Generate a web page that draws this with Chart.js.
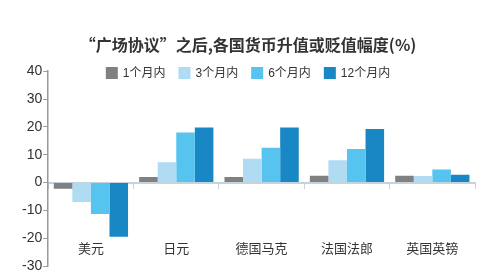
<!DOCTYPE html>
<html>
<head>
<meta charset="utf-8">
<script src="https://cdn.jsdelivr.net/npm/chart.js@4"></script>
<style>
  body { margin: 0; background: #fff; }
  #wrap { width: 487px; height: 278px; }
</style>
</head>
<body>
<div id="wrap"><canvas id="chart"></canvas></div>
<script>
// 数据
const categories = ['美元', '日元', '德国马克', '法国法郎', '英国英镑'];
const seriesNames = ['1个月内', '3个月内', '6个月内', '12个月内'];
const oneMonth = [-2.2, 2.0, 2.0, 2.4, 2.4];
const threeMonth = [-7.0, 7.3, 8.5, 8.0, 2.3];
const sixMonth = [-11.3, 18.0, 12.5, 12.0, 4.7];
const twelveMonth = [-19.5, 19.8, 19.8, 19.2, 2.8];
const yTicks = [40, 30, 20, 10, 0, -10, -20, -30];

const colors = ['#808082', '#afdbf3', '#56c4ef', '#1887c3'];
const fontFam = "'Liberation Sans', 'Noto Sans CJK SC', sans-serif";

// 图例画在图表区内，一行
const legendInArea = {
  id: 'legendInArea',
  afterDraw(chart) {
    const c = chart.ctx;
    const box = 12, gap = 5, itemGap = 13, y = 73;
    c.save();
    c.font = '12px ' + fontFam;
    const items = chart.data.datasets.map(ds => ({
      text: ds.label, color: ds.backgroundColor, w: c.measureText(ds.label).width
    }));
    const total = items.reduce((s, it) => s + box + gap + it.w, 0) + itemGap * (items.length - 1);
    let x = 248 - total / 2;
    c.textBaseline = 'middle';
    items.forEach(it => {
      c.fillStyle = it.color;
      c.fillRect(x, y - box / 2, box, box);
      c.fillStyle = '#333';
      c.fillText(it.text, x + box + gap, y + 1);
      x += box + gap + it.w + itemGap;
    });
    c.restore();
  }
};

const ctx = document.getElementById('chart');
new Chart(ctx, {
  type: 'bar',
  data: {
    labels: categories,
    datasets: [oneMonth, threeMonth, sixMonth, twelveMonth].map((d, i) => ({
      label: seriesNames[i],
      data: d,
      backgroundColor: colors[i],
      borderWidth: 0,
      barPercentage: 1,
      categoryPercentage: 0.87
    }))
  },
  options: {
    responsive: true,
    maintainAspectRatio: false,
    animation: false,
    layout: { padding: { left: 21, right: 12, top: 0, bottom: 12 } },
    plugins: {
      title: {
        display: true,
        text: '“广场协议”之后,各国货币升值或贬值幅度(%)',
        color: '#333',
        font: { family: "'Noto Sans CJK SC', sans-serif", size: 16, weight: 'bold' },
        padding: { top: 35, bottom: 17 }
      },
      legend: { display: false },
      tooltip: { enabled: false }
    },
    scales: {
      x: {
        position: { y: 0 },
        offset: true,
        // 标签下移的 padding 不要挤占左右空间
        afterFit: (scale) => { scale.paddingLeft = 0; scale.paddingRight = 0; },
        grid: {
          display: true,
          offset: true,
          drawOnChartArea: false,
          tickLength: 5,
          tickColor: '#c5d3dd',
          tickWidth: 1
        },
        border: { display: true, color: '#c5d3dd', width: 2 },
        ticks: {
          color: '#333',
          padding: 54,
          font: { family: fontFam, size: 13 }
        }
      },
      y: {
        min: -30,
        max: 40,
        afterBuildTicks: (scale) => { scale.ticks = yTicks.map(v => ({ value: v })); },
        grid: {
          display: true,
          drawOnChartArea: false,
          tickLength: 5,
          tickColor: '#999',
          tickWidth: 1
        },
        border: { display: true, color: '#999', width: 1.5 },
        ticks: {
          color: '#333',
          padding: 1,
          font: { family: fontFam, size: 14 }
        }
      }
    }
  },
  plugins: [legendInArea]
});
</script>
</body>
</html>
